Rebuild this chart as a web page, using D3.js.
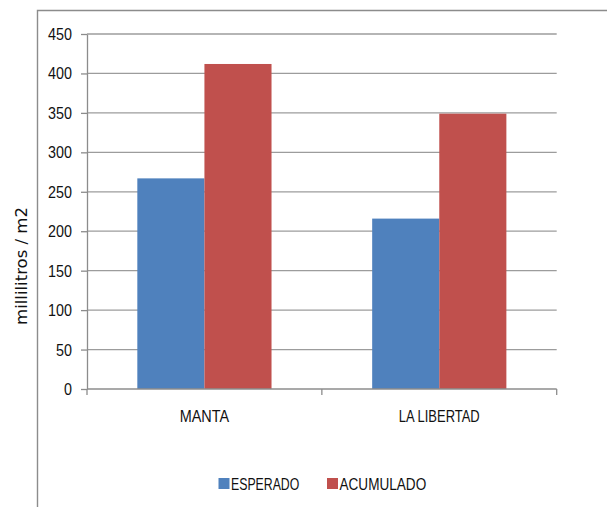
<!DOCTYPE html>
<html>
<head>
<meta charset="utf-8">
<script src="https://cdn.jsdelivr.net/npm/d3@7"></script>
<style>
  html, body { margin: 0; padding: 0; background: #fff; }
  svg { display: block; }
</style>
</head>
<body>
<svg id="chart" width="607" height="507"></svg>
<script>
const categories = ["MANTA", "LA LIBERTAD"];
const seriesNames = ["ESPERADO", "ACUMULADO"];
const esperado = [267, 216];
const acumulado = [412, 349];
const yTicks = [0, 50, 100, 150, 200, 250, 300, 350, 400, 450];
const yLabel = "millilitros / m2";
const colors = ["#4F81BD", "#C0504D"];

const seriesValues = [esperado, acumulado];
const W = 607, H = 507;
const plot = { left: 87, right: 556.7, top: 34, bottom: 389 };
const font = "'Liberation Sans', Arial, sans-serif";
const fs = 16.5;      // rendered font size
const emTarget = 15.7; // original Calibri-like size for width fitting

// approximate narrow (Calibri-like) advance widths, in em
const narrowW = { A:.579, B:.544, C:.533, D:.615, E:.488, I:.252, L:.420, M:.855, N:.646,
  O:.662, P:.517, R:.543, S:.459, T:.487, U:.641, " ":.226 };
function narrowLen(s) {
  let w = 0;
  for (const ch of String(s)) w += (ch >= "0" && ch <= "9") ? .507 : (narrowW[ch] || .5);
  return w * emTarget;
}
function fitNarrow(sel) {
  sel.attr("font-family", font).attr("font-size", fs)
    .attr("lengthAdjust", "spacingAndGlyphs")
    .attr("textLength", function() { return narrowLen(this.textContent); });
}

const svg = d3.select("#chart");

// outer chart frame (partially cropped)
svg.append("path")
  .attr("d", `M37.5,${H} L37.5,10.5 L${W},10.5`)
  .attr("fill", "none").attr("stroke", "#8c8c8c").attr("stroke-width", 1.4);

const y = d3.scaleLinear().domain([0, 450]).range([plot.bottom, plot.top]);
const x0 = d3.scaleBand().domain(categories).range([plot.left, plot.right]).paddingInner(0).paddingOuter(0);
const step = x0.bandwidth();
const barW = step / 3.5;
const x1 = d3.scaleBand().domain(seriesNames).range([barW * 0.75, step - barW * 0.75]).padding(0);

// gridlines
svg.append("g").selectAll("line").data(yTicks.filter(d => d > 0)).join("line")
  .attr("x1", plot.left).attr("x2", plot.right)
  .attr("y1", d => y(d)).attr("y2", d => y(d))
  .attr("stroke", "#9c9c9c").attr("stroke-width", 1.3);

// bars
const rows = categories.map((c, i) => ({ cat: c, vals: seriesNames.map((s, j) => ({ s, j, v: seriesValues[j][i] })) }));
svg.append("g").selectAll("g").data(rows).join("g")
  .attr("transform", d => `translate(${x0(d.cat)},0)`)
  .selectAll("rect").data(d => d.vals).join("rect")
  .attr("x", d => x1(d.s)).attr("width", x1.bandwidth())
  .attr("y", d => y(d.v)).attr("height", d => y(0) - y(d.v))
  .attr("fill", d => colors[d.j]);

// y axis
const yAxis = svg.append("g").attr("transform", `translate(${plot.left},0)`)
  .call(d3.axisLeft(y).tickValues(yTicks).tickSize(6).tickSizeOuter(0).tickPadding(9));
yAxis.select(".domain").attr("stroke", "#8c8c8c").attr("stroke-width", 1.3);
yAxis.selectAll(".tick line").attr("stroke", "#8c8c8c").attr("stroke-width", 1.3);
yAxis.selectAll(".tick text").attr("fill", "#111").call(fitNarrow).attr("font-size", 17);

// x axis (Excel-style ticks at category boundaries)
const bounds = categories.map(c => x0(c)).concat([x0.range()[1]]);
const xg = svg.append("g");
xg.append("line").attr("x1", plot.left).attr("x2", plot.right)
  .attr("y1", y(0)).attr("y2", y(0)).attr("stroke", "#8c8c8c").attr("stroke-width", 1.3);
xg.selectAll("line.t").data(bounds).join("line").attr("class", "t")
  .attr("x1", d => d).attr("x2", d => d).attr("y1", y(0)).attr("y2", y(0) + 6)
  .attr("stroke", "#8c8c8c").attr("stroke-width", 1.3);
xg.selectAll("text").data(categories).join("text")
  .attr("x", d => x0(d) + step / 2).attr("y", y(0) + 32.5)
  .attr("text-anchor", "middle").attr("fill", "#111").text(d => d)
  .call(fitNarrow);

// y label
svg.append("text")
  .attr("transform", "translate(26.5,266) rotate(-90)")
  .attr("text-anchor", "middle").attr("font-family", "'DejaVu Sans', Verdana, sans-serif")
  .attr("font-size", 16.5).attr("fill", "#111").text(yLabel);

// legend
const legendX = [218.5, 327];
const lg = svg.append("g").selectAll("g").data(seriesNames).join("g")
  .attr("transform", (d, i) => `translate(${legendX[i]},478)`);
lg.append("rect").attr("width", 11).attr("height", 11).attr("fill", (d, i) => colors[i]);
lg.append("text").attr("x", 12.5).attr("y", 11.5).attr("fill", "#111").text(d => d)
  .call(fitNarrow);
</script>
</body>
</html>
